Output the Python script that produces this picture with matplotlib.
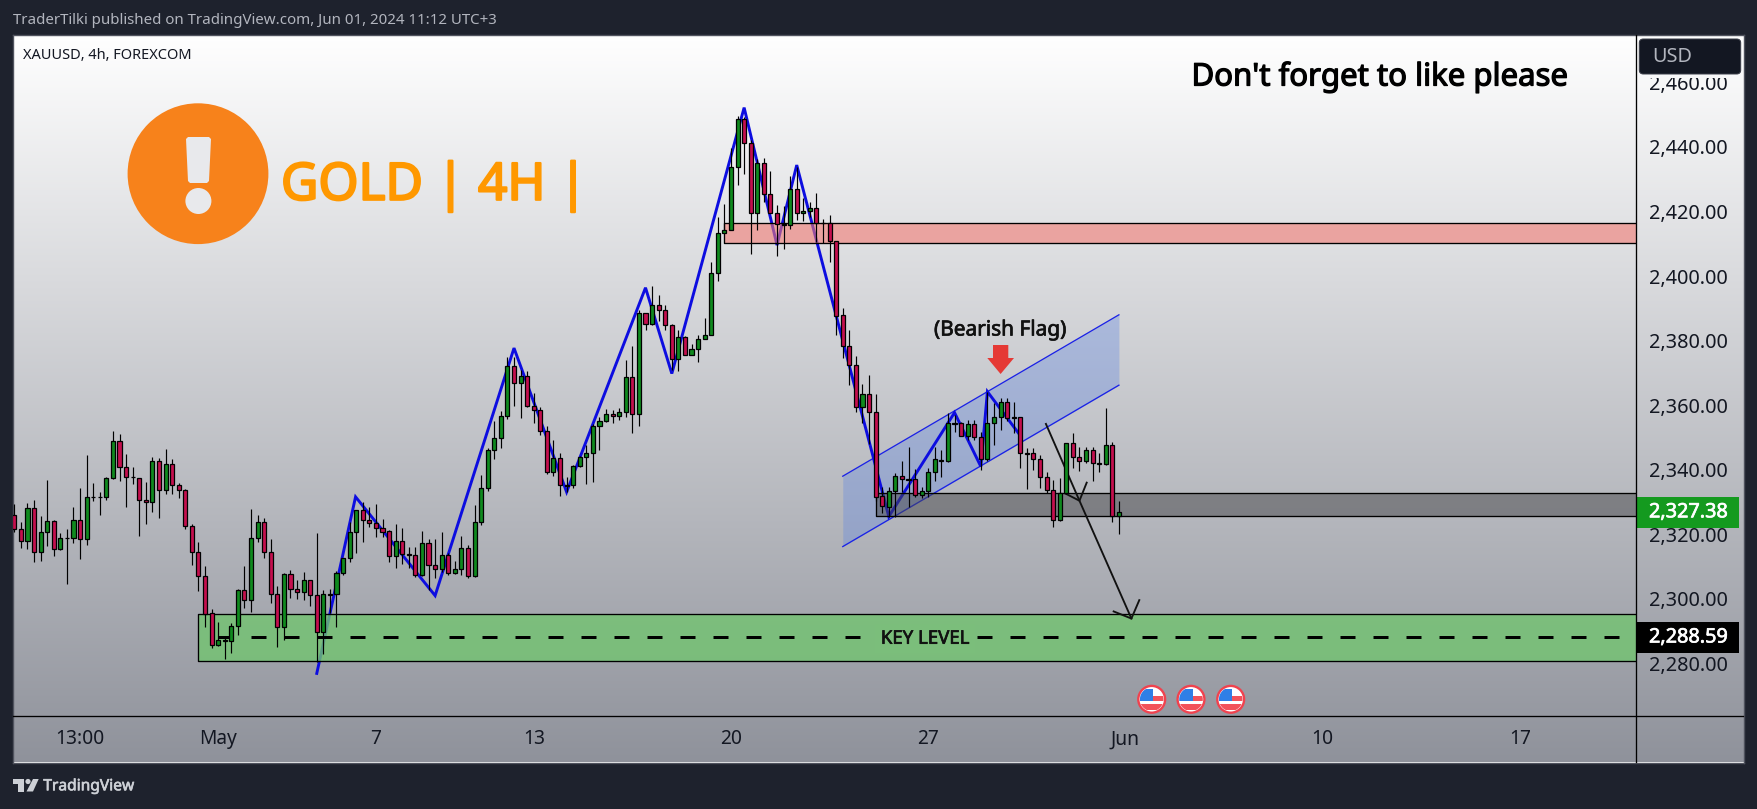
import numpy as np
import matplotlib
matplotlib.use("Agg")
import matplotlib.pyplot as plt
import matplotlib.patheffects as pe
from matplotlib.patches import Circle, Polygon, Rectangle, FancyBboxPatch

plt.rcParams['font.family'] = ['Noto Sans', 'DejaVu Sans']

opens = [2325.9,2321.5,2317.8,2328.3,2314.4,2320.6,2324.0,2315.3,2319.0,2319.0,
         2324.3,2318.4,2331.7,2331.7,2331.7,2337.3,2348.8,2340.7,2337.9,2337.3,
         2330.5,2329.9,2342.6,2333.6,2341.7,2335.2,2333.6,2322.5,2314.4,2307.0,
         2295.5,2285.6,2287.4,2286.8,2291.5,2302.6,2299.5,2319.0,2323.7,2314.4,
         2301.4,2291.2,2307.6,2303.2,2302.0,2305.7,2301.1,2289.6,2301.4,2301.4,
         2307.9,2312.8,2320.6,2327.4,2324.3,2323.4,2322.1,2320.9,2313.2,2317.8,
         2313.8,2313.5,2307.3,2317.2,2310.4,2309.4,2313.5,2307.9,2309.4,2315.9,
         2307.0,2323.7,2334.2,2346.0,2349.7,2356.5,2372.0,2367.0,2368.9,2359.6,
         2358.6,2352.1,2339.3,2343.5,2335.3,2335.3,2341.3,2344.0,2345.3,2353.4,
         2355.2,2357.4,2356.8,2358.0,2368.6,2357.4,2388.7,2385.3,2390.9,2389.6,
         2384.7,2374.4,2381.0,2375.7,2377.5,2380.6,2381.9,2401.1,2413.5,2414.4,
         2433.9,2448.8,2441.1,2419.7,2434.9,2425.3,2419.7,2416.1,2415.7,2427.1,
         2419.4,2420.3,2421.2,2416.6,2416.6,2411.0,2387.8,2378.2,2372.3,2359.3,
         2363.6,2358.0,2331.8,2328.6,2333.3,2338.0,2337.0,2337.0,2332.1,2333.3,
         2339.2,2343.0,2342.8,2354.4,2354.4,2350.4,2354.1,2350.0,2343.2,2354.4,
         2356.2,2360.9,2356.2,2356.2,2345.1,2345.1,2343.2,2337.6,2333.6,2324.3,
         2332.7,2348.2,2343.8,2342.6,2346.0,2342.0,2341.7,2347.6,2325.6]
highs = [2329.4,2323.7,2329.6,2330.5,2325.7,2336.8,2324.4,2320.3,2321.5,2328.4,
         2334.3,2344.6,2335.8,2333.0,2337.9,2352.0,2351.0,2344.9,2340.7,2337.3,
         2336.1,2343.8,2343.5,2346.3,2343.2,2335.8,2333.9,2323.1,2317.5,2310.1,
         2297.0,2292.8,2288.3,2292.4,2302.9,2310.2,2327.7,2325.9,2324.9,2318.4,
         2304.0,2307.9,2308.8,2305.8,2308.2,2305.7,2320.3,2302.6,2302.9,2308.5,
         2312.8,2323.7,2327.4,2329.9,2328.5,2329.3,2324.6,2321.3,2323.1,2321.8,
         2316.1,2316.1,2320.9,2318.5,2318.5,2320.6,2314.1,2311.6,2319.5,2316.6,
         2329.0,2338.3,2346.6,2355.2,2358.3,2374.9,2375.0,2370.8,2370.5,2363.9,
         2359.3,2353.7,2349.3,2345.3,2337.8,2341.6,2344.3,2347.6,2354.3,2356.2,
         2358.9,2358.4,2359.2,2373.9,2378.3,2389.4,2388.7,2396.9,2394.1,2391.0,
         2385.3,2383.2,2381.4,2379.1,2381.9,2387.1,2404.5,2418.4,2422.3,2439.8,
         2449.5,2449.3,2442.1,2436.4,2436.7,2432.5,2422.0,2421.7,2430.9,2433.8,
         2424.3,2423.0,2425.9,2417.8,2418.9,2411.0,2390.2,2383.2,2375.2,2366.7,
         2369.3,2363.4,2334.8,2334.8,2339.1,2342.7,2347.0,2340.1,2334.8,2340.4,
         2346.9,2346.1,2357.5,2357.0,2354.9,2355.4,2355.4,2351.8,2364.2,2360.6,
         2362.1,2362.1,2361.1,2356.4,2346.6,2346.6,2344.6,2339.4,2336.8,2337.3,
         2348.2,2351.3,2347.1,2347.1,2347.1,2345.1,2359.1,2348.5,2330.3]
lows = [2320.8,2315.8,2315.5,2311.5,2311.8,2316.5,2313.4,2315.1,2304.7,2317.4,
        2312.4,2316.8,2330.4,2326.1,2330.7,2337.1,2336.6,2328.5,2335.7,2319.6,
        2323.3,2326.9,2325.1,2332.5,2332.6,2331.3,2321.5,2310.6,2302.5,2291.4,
        2284.8,2285.5,2281.4,2283.3,2288.9,2297.2,2295.8,2317.7,2312.7,2298.6,
        2285.2,2287.4,2300.3,2300.0,2299.7,2297.7,2280.5,2283.0,2295.5,2291.4,
        2307.3,2311.5,2314.3,2317.7,2322.3,2319.2,2319.2,2311.5,2309.6,2310.9,
        2309.6,2306.9,2307.2,2302.7,2306.5,2308.4,2307.5,2307.7,2307.5,2306.5,
        2306.9,2323.0,2333.5,2343.4,2346.8,2355.7,2359.8,2356.1,2359.5,2354.5,
        2350.8,2338.7,2338.1,2331.9,2333.1,2334.4,2340.9,2335.6,2336.2,2346.0,
        2354.8,2354.5,2355.3,2356.4,2351.4,2353.6,2383.2,2384.8,2386.0,2383.2,
        2370.8,2370.6,2375.6,2375.5,2373.4,2380.5,2381.6,2398.5,2413.2,2414.2,
        2428.2,2431.6,2406.9,2414.4,2423.0,2419.6,2406.1,2408.3,2414.7,2417.5,
        2417.1,2418.3,2410.6,2410.1,2404.4,2381.7,2374.6,2366.2,2357.9,2354.5,
        2348.1,2330.3,2326.7,2325.5,2325.5,2333.2,2328.6,2331.7,2331.1,2331.7,
        2336.6,2337.9,2342.5,2351.8,2350.3,2349.2,2349.2,2339.9,2342.8,2347.7,
        2352.3,2355.2,2351.3,2340.6,2334.1,2339.9,2334.2,2332.7,2322.4,2324.2,
        2332.5,2340.4,2339.7,2342.0,2336.6,2339.4,2341.6,2323.7,2320.2]
closes = [2321.5,2317.8,2328.3,2314.4,2320.6,2324.0,2315.3,2318.7,2318.7,2324.3,
          2318.4,2331.7,2331.5,2331.5,2337.3,2348.8,2340.7,2337.9,2337.6,2330.5,
          2329.9,2342.6,2333.6,2341.7,2335.2,2333.6,2322.5,2314.4,2307.0,2295.3,
          2285.6,2287.4,2286.8,2291.5,2302.6,2299.5,2319.0,2323.7,2314.4,2301.4,
          2291.2,2307.6,2303.2,2302.0,2305.7,2301.1,2289.6,2301.4,2301.2,2307.9,
          2312.8,2320.6,2327.4,2324.3,2323.4,2322.1,2320.8,2313.2,2317.8,2313.8,
          2313.6,2307.3,2317.2,2310.4,2309.4,2313.5,2307.9,2309.4,2315.9,2307.0,
          2323.7,2334.2,2346.0,2349.7,2356.5,2372.0,2367.0,2368.9,2359.6,2358.6,
          2352.1,2339.3,2343.5,2335.3,2335.0,2341.3,2344.1,2345.3,2353.4,2355.2,
          2357.4,2356.8,2358.0,2368.6,2357.4,2388.7,2385.3,2390.9,2389.6,2384.7,
          2374.4,2381.0,2375.7,2377.5,2380.6,2381.9,2401.1,2413.5,2414.4,2433.9,
          2448.8,2441.1,2419.7,2434.9,2425.3,2419.7,2416.0,2415.9,2427.1,2419.4,
          2420.3,2421.2,2416.6,2416.4,2411.0,2387.7,2378.2,2372.3,2359.3,2363.6,
          2358.0,2331.6,2328.7,2333.3,2338.0,2337.0,2336.8,2332.1,2333.3,2339.2,
          2343.2,2342.8,2354.4,2354.2,2350.4,2354.1,2350.0,2343.2,2354.4,2356.2,
          2360.9,2355.9,2356.0,2345.1,2344.9,2343.2,2337.6,2333.6,2324.3,2332.7,
          2348.2,2343.8,2342.6,2346.0,2342.0,2341.8,2347.6,2325.6,2326.8]

price_ticks = [2280, 2300, 2320, 2340, 2360, 2380, 2400, 2420, 2440, 2460]
price_labels = ['2,280.00', '2,300.00', '2,320.00', '2,340.00', '2,360.00',
                '2,380.00', '2,400.00', '2,420.00', '2,440.00', '2,460.00']
time_ticks = [10, 31, 55, 79, 109, 139, 169, 199, 229]
time_labels = ['13:00', 'May', '7', '13', '20', '27', 'Jun', '10', '17']

zigzag_idx = [46.0, 51.9, 64, 76, 84, 96, 100, 111, 116, 119, 133, 143, 147, 148, 153]
zigzag_px = [2276.9, 2331.6, 2301.0, 2377.7, 2333.1, 2396.4, 2369.8, 2452.2, 2409.6,
             2434.4, 2325.5, 2357.7, 2341.0, 2364.2, 2350.6]
channel_idx = [126, 168]
channel_upper = [2338.0, 2388.0]
channel_lower = [2316.2, 2366.2]
pink_zone = (108, 2410.1, 2416.6)
gray_zone = (131.1, 2325.6, 2332.7)
green_zone = (28, 2280.6, 2295.2)
key_level = 2288.05
key_start = 31
arrow_idx = [156.9, 162.0, 169.9]
arrow_px = [2354.2, 2330.4, 2293.9]
head1_idx = [159.8, 162.0, 163.1]
head1_px = [2332.7, 2330.4, 2336.0]
head2_idx = [167.2, 169.9, 171.1]
head2_px = [2296.1, 2293.9, 2299.6]

W, H = 1757, 809
DARK = '#1e222d'
GREEN = '#0f8a1e'
RED = '#c40f4e'

def heavy(width, color):
    return [pe.withStroke(linewidth=width, foreground=color)]

fig = plt.figure(figsize=(W / 100, H / 100), dpi=100, facecolor=DARK)

def px_axes(x0, y0, x1, y1, **kw):
    return fig.add_axes([x0 / W, 1 - y1 / H, (x1 - x0) / W, (y1 - y0) / H], **kw)

# gradient panel
bg = px_axes(13, 35, 1743.5, 762.5, zorder=0)
top = np.array([255, 255, 255]) / 255
bot = np.array([143, 146, 155]) / 255
g = np.linspace(0, 1, 512)[:, None, None]
bg.imshow(top + (bot - top) * g, aspect='auto', extent=(0, 1, 0, 1))
bg.set_xticks([]); bg.set_yticks([])
for s in bg.spines.values():
    s.set_color('#50535e'); s.set_linewidth(1.0)

# main chart
ax = px_axes(13, 35, 1635.7, 716, zorder=5, facecolor='none')
ax.set_xlim(-0.2, 246.6)
ax.set_ylim(2263.7, 2474.7)
for s in ax.spines.values():
    s.set_visible(False)

idx = np.arange(len(opens))
op, hi, lo, cl = map(np.array, (opens, highs, lows, closes))

ax.fill_between(channel_idx, channel_lower, channel_upper,
                color=(96 / 255, 135 / 255, 227 / 255, 0.35), lw=0, zorder=1)
ax.plot(channel_idx, channel_upper, color='#1a22e6', lw=0.95, zorder=1.2)
ax.plot(channel_idx, channel_lower, color='#1a22e6', lw=0.95, zorder=1.2)
ax.plot(zigzag_idx, zigzag_px, color='#0d0de0', lw=2.1, zorder=1.5, solid_joinstyle='miter')

right = ax.get_xlim()[1]
zones = [(pink_zone, (242 / 255, 123 / 255, 116 / 255, 0.6)),
         (gray_zone, (71 / 255, 71 / 255, 74 / 255, 0.5)),
         (green_zone, (114 / 255, 196 / 255, 112 / 255, 0.8))]
for (x0, p0, p1), c in zones:
    ax.add_patch(Rectangle((x0, p0), right - x0, p1 - p0, fc=c, ec='none', zorder=2))
    ax.plot([right, x0, x0, right], [p0, p0, p1, p1], color='black', lw=0.95, zorder=2.1)

ax.plot([key_start, right], [key_level, key_level], color='black', lw=2.16,
        dashes=(5, 6), dash_capstyle='butt', zorder=2.2)
ax.text(138.5, key_level - 0.4, 'KEY LEVEL', ha='center', va='center', fontsize=13.4, color='#111111',
        zorder=2.3, bbox=dict(fc='#7bbe7b', ec='none', pad=4), path_effects=heavy(0.5, '#111111'))

ax.plot(arrow_idx, arrow_px, color='#111111', lw=1.35, zorder=2.5)
ax.plot(head1_idx, head1_px, color='#111111', lw=1.35, zorder=2.5)
ax.plot(head2_idx, head2_px, color='#111111', lw=1.35, zorder=2.5)

ax.vlines(idx, lo, hi, color='black', lw=0.85, zorder=3)
colors = [GREEN if c >= o else RED for o, c in zip(op, cl)]
ax.bar(idx, np.abs(cl - op), bottom=np.minimum(op, cl), width=0.62, color=colors,
       edgecolor='black', linewidth=0.9, zorder=3.2)

ax.yaxis.tick_right()
ax.set_yticks(price_ticks, price_labels)
ax.set_xticks(time_ticks, time_labels)
ax.tick_params(axis='y', length=0, pad=9.6, labelsize=14.3, labelcolor='#131722')
ax.tick_params(axis='x', length=0, pad=9.5, labelsize=13.8, labelcolor='#131722')

# overlay for fixed decorations
ov = px_axes(0, 0, W, H, zorder=10, facecolor='none')
ov.set_xlim(0, W); ov.set_ylim(H, 0)
ov.axis('off')

ov.plot([13, 1743], [716, 716], color='black', lw=0.95)
ov.plot([1635.7, 1635.7], [35, 762], color='black', lw=0.95)

ov.text(13, 20.5, 'TraderTilki published on TradingView.com, Jun 01, 2024 11:12 UTC+3',
        color='#b2b5be', fontsize=10.85, ha='left', va='center')
ov.text(23, 55, 'XAUUSD, 4h, FOREXCOM', color='#131722', fontsize=10.5, ha='left', va='center')

# alert badge
ov.add_patch(Circle((198, 173.7), 70.4, fc='#f7821b', ec='none'))
ov.add_patch(Polygon([(186, 139), (188, 137), (209, 137), (211, 139), (209, 181), (207, 183),
                      (190, 183), (188, 181)], closed=True, fc='#e8e9ec', ec='none'))
ov.add_patch(Circle((198.4, 201), 13, fc='#e8e9ec', ec='none'))
ov.text(281, 180, 'GOLD | 4H |', color='#ff9800', fontsize=37, ha='left',
        va='center_baseline', path_effects=heavy(1.6, '#ff9800'))
ov.text(1568, 77, "Don't forget to like please", color='black', fontsize=22.4,
        ha='right', va='center', path_effects=heavy(0.9, 'black'))
ov.text(1000.4, 330, '(Bearish Flag)', color='#111111', fontsize=15,
        ha='center', va='center', path_effects=heavy(0.5, '#111111'))
ov.add_patch(Polygon([(993, 345), (1008.3, 345), (1008.3, 358), (1014, 358), (1000.6, 374),
                      (987.3, 358), (993, 358)], closed=True, fc='#e53935', ec='none'))

# USD box and price tags
ov.add_patch(Rectangle((1637, 72), 105, 5.5, fc='#f8f8f9', ec='none'))
ov.add_patch(FancyBboxPatch((1642.3, 42), 95.4, 29, boxstyle='round,pad=3,rounding_size=4',
                            fc='#131722', ec='#3a3d48', lw=0.7))
ov.text(1652, 57, 'USD', color='#b2b5be', fontsize=14.3, ha='left', va='center')
for y0, y1, col, lab in [(497, 527.7, '#149a1f', '2,327.38'), (622.3, 652.7, '#000000', '2,288.59')]:
    ov.add_patch(Rectangle((1635.5, y0), 103.8, y1 - y0, fc=col, ec='none'))
    ov.text(1649, (y0 + y1) / 2, lab, color='white', fontsize=14.3, ha='left', va='center',
            path_effects=heavy(0.5, 'white'))

# economic event flags
for cx in (1151.7, 1191, 1230.7):
    cy = 699.3
    ring = Circle((cx, cy), 13.4, fc='white', ec='#f0424f', lw=1.7)
    ov.add_patch(ring)
    clip = Circle((cx, cy), 11.8, transform=ov.transData)
    for (x, y, w, h, c) in [(-12, -10.5, 13.7, 12, '#2f7fe6'), (1.7, -3.3, 12, 5, '#f2525a'),
                            (-12, 5, 24, 6, '#f2525a')]:
        r = Rectangle((cx + x, cy + y), w, h, fc=c, ec='none')
        ov.add_patch(r)
        r.set_clip_path(clip)

# TradingView logo
logo = '#cdd0d6'
ov.add_patch(Polygon([(12.7, 779), (24, 779), (24, 791.5), (18.3, 791.5), (18.3, 784), (12.7, 784)],
                     closed=True, fc=logo, ec='none'))
ov.add_patch(Circle((28, 781.5), 2.6, fc=logo, ec='none'))
ov.add_patch(Polygon([(33, 779), (38.7, 779), (33, 791.5), (26.5, 791.5)], closed=True, fc=logo, ec='none'))
ov.text(43.3, 786.3, 'TradingView', color=logo, fontsize=11.2, ha='left', va='center',
        path_effects=heavy(0.45, logo))

fig.savefig('out.png', dpi=100, facecolor=DARK)
